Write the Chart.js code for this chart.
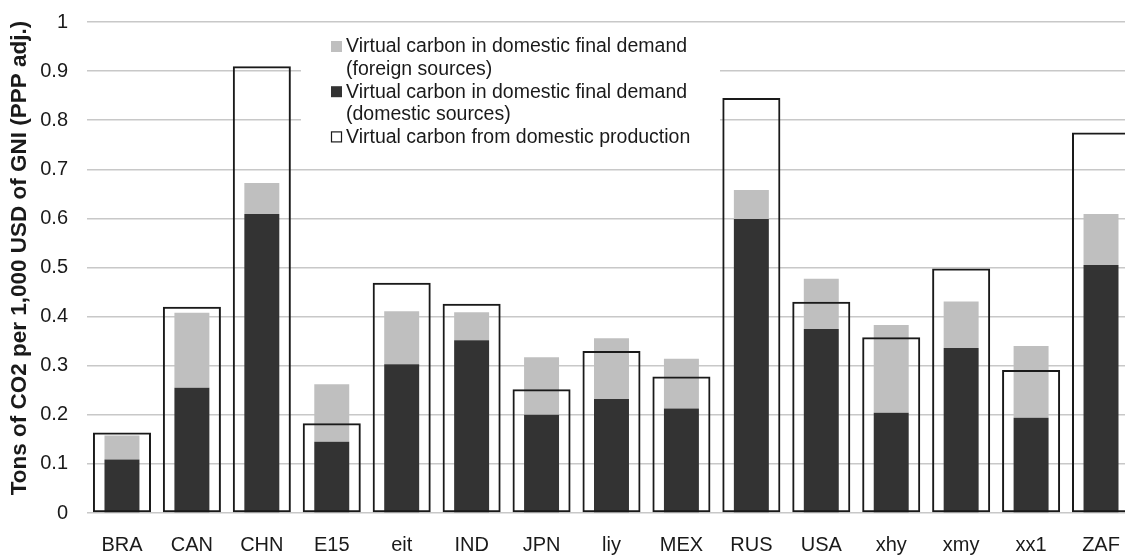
<!DOCTYPE html>
<html>
<head>
<meta charset="utf-8">
<script src="https://cdn.jsdelivr.net/npm/chart.js@4.4.1/dist/chart.umd.min.js"></script>
<style>
  html, body { margin: 0; padding: 0; background: #fff; overflow: hidden; }
  #wrap { width: 1140px; height: 556px; }
</style>
</head>
<body>
<div id="wrap"><canvas id="chart" width="1140" height="556"></canvas></div>
<script>
// --- DATOS ---
const paises = ['BRA', 'CAN', 'CHN', 'E15', 'eit', 'IND', 'JPN', 'liy', 'MEX', 'RUS', 'USA', 'xhy', 'xmy', 'xx1', 'ZAF'];

// demanda final domestica, fuentes domesticas (barra oscura)
const fuentesDomesticas = [0.109, 0.255, 0.609, 0.145, 0.303, 0.352, 0.200, 0.232, 0.213, 0.599, 0.375, 0.204, 0.336, 0.194, 0.505];
// demanda final domestica, fuentes extranjeras (barra gris, apilada encima)
const fuentesExtranjeras = [0.049, 0.153, 0.063, 0.117, 0.108, 0.057, 0.117, 0.124, 0.101, 0.059, 0.102, 0.179, 0.095, 0.146, 0.104];
// carbono de la produccion domestica (contorno)
const produccion = [0.164, 0.420, 0.910, 0.183, 0.469, 0.426, 0.252, 0.330, 0.278, 0.845, 0.430, 0.358, 0.498, 0.291, 0.775];

const ticksY = ['0', '0.1', '0.2', '0.3', '0.4', '0.5', '0.6', '0.7', '0.8', '0.9', '1'];
const tituloY = 'Tons of CO2 per 1,000 USD of GNI (PPP adj.)';

const leyenda = [
    { lineas: ['Virtual carbon in domestic final demand', '(foreign sources)'], fill: '#bfbfbf', stroke: null },
    { lineas: ['Virtual carbon in domestic final demand', '(domestic sources)'], fill: '#333333', stroke: null },
    { lineas: ['Virtual carbon from domestic production'], fill: '#ffffff', stroke: '#1a1a1a' }
];

const FONT = '"Liberation Sans", Arial, sans-serif';

// leyenda dibujada a mano: caja blanca sobre la grilla
const leyendaPlugin = {
    id: 'leyendaCaja',
    beforeDatasetsDraw(chart) {
        const ctx = chart.ctx;
        ctx.save();
        ctx.fillStyle = '#ffffff';
        ctx.fillRect(301, 24, 419, 143);
        ctx.font = '19.5px ' + FONT;
        ctx.textBaseline = 'middle';
        let y = 47;
        leyenda.forEach(item => {
            ctx.fillStyle = item.fill;
            ctx.fillRect(331, y - 6, 11, 11);
            if (item.stroke) {
                ctx.strokeStyle = item.stroke;
                ctx.lineWidth = 1.2;
                ctx.strokeRect(331.5, y - 5.5, 10, 10);
            }
            ctx.fillStyle = '#1a1a1a';
            item.lineas.forEach(t => {
                ctx.fillText(t, 346, y);
                y += 22.6;
            });
        });
        ctx.restore();
    },
    // titulo del eje Y, un poco por encima del centro como en el original
    afterDraw(chart) {
        const ctx = chart.ctx;
        ctx.save();
        ctx.translate(19.5, 258);
        ctx.rotate(-Math.PI / 2);
        ctx.font = 'bold 22.5px ' + FONT;
        ctx.fillStyle = '#1a1a1a';
        ctx.textAlign = 'center';
        ctx.textBaseline = 'middle';
        ctx.fillText(tituloY, 0, 0);
        ctx.restore();
    }
};

new Chart(document.getElementById('chart'), {
    type: 'bar',
    data: {
        labels: paises,
        datasets: [
            {
                label: 'Virtual carbon from domestic production',
                data: produccion,
                stack: 'prod',
                grouped: false,
                backgroundColor: 'rgba(0,0,0,0)',
                borderColor: '#1a1a1a',
                borderWidth: 2,
                borderSkipped: false,
                barPercentage: 0.83,
                categoryPercentage: 1
            },
            {
                label: 'Virtual carbon in domestic final demand (domestic sources)',
                data: fuentesDomesticas,
                stack: 'demanda',
                grouped: false,
                backgroundColor: '#333333',
                borderWidth: 0,
                barPercentage: 0.5,
                categoryPercentage: 1
            },
            {
                label: 'Virtual carbon in domestic final demand (foreign sources)',
                data: fuentesExtranjeras,
                stack: 'demanda',
                grouped: false,
                backgroundColor: '#bfbfbf',
                borderWidth: 0,
                barPercentage: 0.5,
                categoryPercentage: 1
            }
        ]
    },
    options: {
        responsive: false,
        devicePixelRatio: 1,
        animation: false,
        layout: { padding: { top: 22, right: 3, left: 0, bottom: 0 } },
        plugins: {
            legend: { display: false },
            tooltip: { enabled: false }
        },
        scales: {
            x: {
                stacked: true,
                grid: { display: false, drawTicks: false },
                border: { display: false },
                ticks: { color: '#1a1a1a', font: { family: FONT, size: 20 }, padding: 20, maxRotation: 0 },
                afterFit(s) { s.height = 43; }
            },
            y: {
                stacked: true,
                min: 0,
                max: 1,
                grid: { color: '#c8c8c8', lineWidth: 1.5, drawTicks: false },
                border: { display: false },
                ticks: {
                    stepSize: 0.1,
                    color: '#1a1a1a',
                    font: { family: FONT, size: 20 },
                    padding: 19,
                    callback: (v, i) => ticksY[i]
                },
                title: { display: false },
                afterFit(s) {
                    s.width = 87;
                    s.paddingTop = 0;
                    s.paddingBottom = 0;
                }
            }
        }
    },
    plugins: [leyendaPlugin]
});
</script>
</body>
</html>
